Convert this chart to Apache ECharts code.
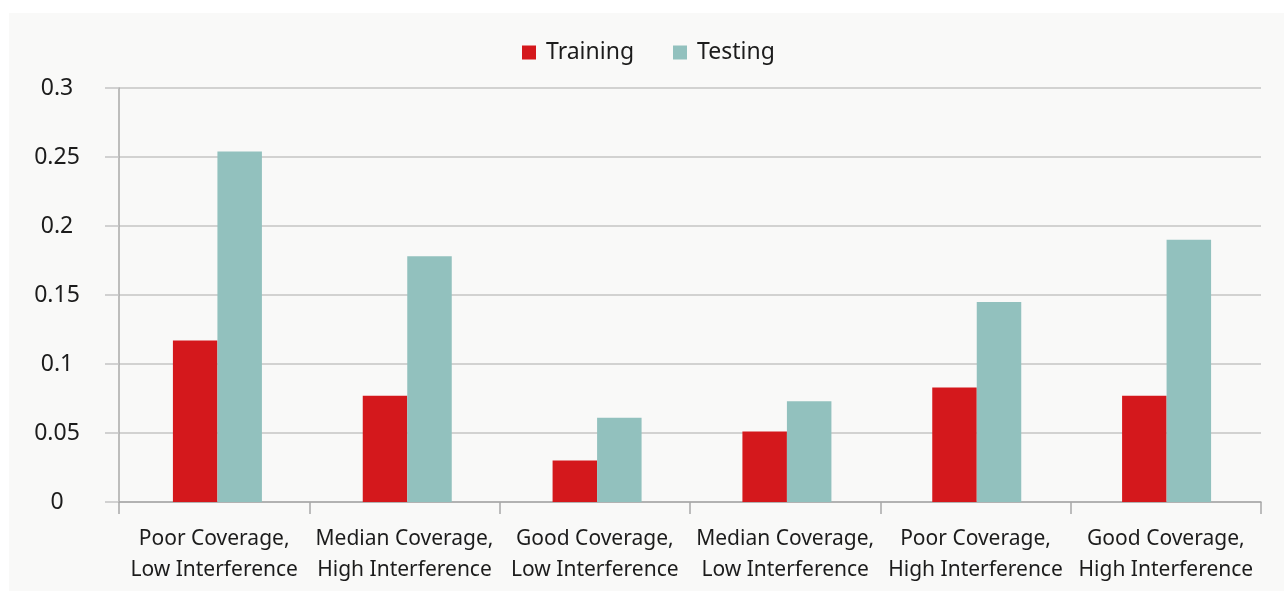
<!DOCTYPE html>
<html>
<head>
<meta charset="utf-8">
<title>Training vs Testing</title>
<script src="https://cdn.jsdelivr.net/npm/echarts@6/dist/echarts.min.js"></script>
<style>
  html, body { margin: 0; padding: 0; background: #ffffff; }
  #chart { width: 1284px; height: 591px; }
</style>
</head>
<body>
<div id="chart"></div>
<script>
// Scenario categories (two-line labels)
const categories = [
  'Poor Coverage,\nLow Interference',
  'Median Coverage,\nHigh Interference',
  'Good Coverage,\nLow Interference',
  'Median Coverage,\nLow Interference',
  'Poor Coverage,\nHigh Interference',
  'Good Coverage,\nHigh Interference'
];
const trainingValues = [0.117, 0.077, 0.030, 0.051, 0.083, 0.077];
const testingValues  = [0.254, 0.178, 0.061, 0.073, 0.145, 0.190];
const yTicks = { min: 0, max: 0.3, interval: 0.05 };

const FONT = '"Noto Sans", "Open Sans", sans-serif';
const TEXT = '#1c1c1c';
const AXIS = '#a8a8a8';
const GRID = '#c4c4c4';

const chart = echarts.init(document.getElementById('chart'), null, { renderer: 'canvas' });
chart.setOption({
  animation: false,
  backgroundColor: '#ffffff',
  graphic: [{
    type: 'rect',
    silent: true,
    z: -10,
    shape: { x: 9, y: 13, width: 1275, height: 578 },
    style: { fill: '#f9f9f8' }
  }],
  legend: {
    top: 41,
    left: 522,
    padding: 0,
    itemWidth: 14,
    itemHeight: 14,
    itemGap: 39,
    icon: 'rect',
    textStyle: { fontFamily: FONT, fontSize: 23, color: TEXT, padding: [0, 0, 0, 5] },
    data: ['Training', 'Testing']
  },
  // grid 0 carries the visible axes, grid 1 carries the bars (bars sit a little right of centre)
  grid: [
    { left: 119, right: 23, top: 88, bottom: 89 },
    { left: 122.5, right: 22.5, top: 88, bottom: 89 }
  ],
  xAxis: [
    {
      type: 'category',
      gridIndex: 0,
      data: categories,
      axisLine: { lineStyle: { color: AXIS, width: 1.5 } },
      axisTick: { show: true, length: 12, lineStyle: { color: AXIS, width: 1.5 } },
      axisLabel: {
        interval: 0,
        margin: 22,
        fontFamily: FONT,
        fontSize: 21,
        lineHeight: 31,
        color: TEXT
      }
    },
    {
      type: 'category',
      gridIndex: 1,
      data: categories,
      show: false
    }
  ],
  yAxis: [
    {
      type: 'value',
      gridIndex: 0,
      min: yTicks.min,
      max: yTicks.max,
      interval: yTicks.interval,
      axisLine: { show: true, lineStyle: { color: AXIS, width: 1.5 } },
      axisTick: { show: true, length: 14, lineStyle: { color: GRID, width: 1.5 } },
      splitLine: { lineStyle: { color: GRID, width: 1.5 } },
      axisLabel: {
        margin: 62,
        align: 'center',
        fontFamily: FONT,
        fontSize: 23,
        color: TEXT,
        formatter: v => String(Math.round(v * 100) / 100)
      }
    },
    {
      type: 'value',
      gridIndex: 1,
      min: yTicks.min,
      max: yTicks.max,
      interval: yTicks.interval,
      show: false,
      splitLine: { show: false }
    }
  ],
  series: [
    {
      name: 'Training',
      type: 'bar',
      xAxisIndex: 1,
      yAxisIndex: 1,
      data: trainingValues,
      barWidth: 44.5,
      barGap: '0%',
      itemStyle: { color: '#d4181c' }
    },
    {
      name: 'Testing',
      type: 'bar',
      xAxisIndex: 1,
      yAxisIndex: 1,
      data: testingValues,
      barWidth: 44.5,
      barGap: '0%',
      itemStyle: { color: '#92c1be' }
    }
  ]
});
</script>
</body>
</html>
